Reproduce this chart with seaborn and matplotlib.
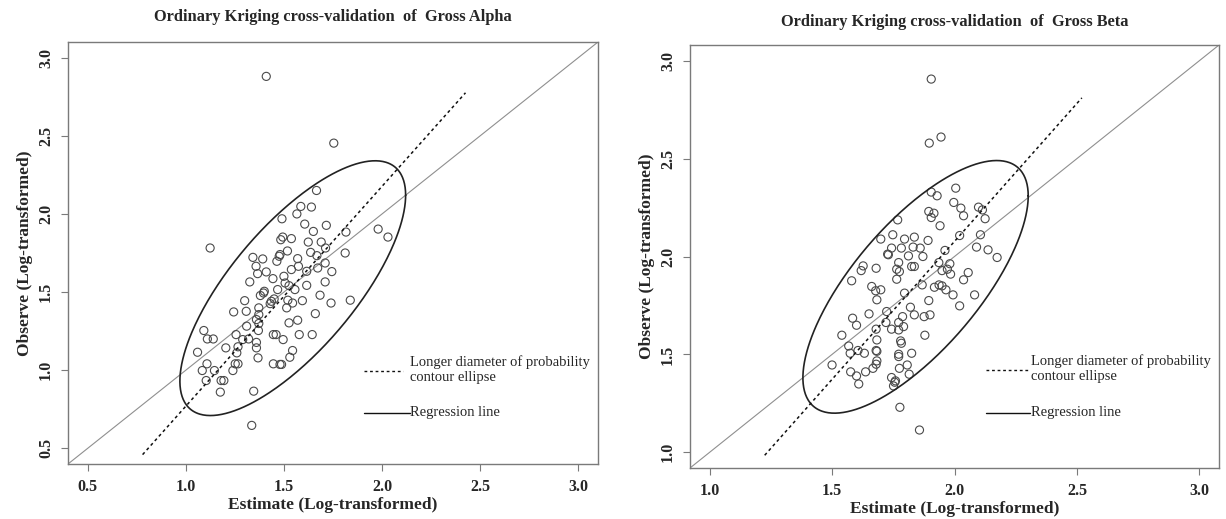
import numpy as np
import matplotlib
matplotlib.use("Agg")
import matplotlib.pyplot as plt
import seaborn as sns
import pandas as pd

# ---------------- data ----------------
alpha_est = [1.41, 1.754, 1.124, 1.98, 2.03, 1.838, 1.336, 1.346, 1.666, 1.586,
             1.64, 1.566, 1.49, 1.606, 1.716, 1.65, 1.816, 1.494, 1.484, 1.538,
             1.518, 1.624, 1.69, 1.712, 1.48, 1.476, 1.636, 1.668, 1.812, 1.342,
             1.392, 1.57, 1.464, 1.71, 1.358, 1.41, 1.366, 1.538, 1.574, 1.616,
             1.672, 1.744, 1.5, 1.444, 1.326, 1.506, 1.526, 1.71, 1.616, 1.468,
             1.40, 1.396, 1.556, 1.38, 1.684, 1.45, 1.30, 1.52, 1.594, 1.74,
             1.544, 1.43, 1.436, 1.372, 1.514, 1.244, 1.308, 1.66, 1.372, 1.36,
             1.57, 1.372, 1.526, 1.092, 1.31, 1.37, 1.256, 1.446, 1.46, 1.644,
             1.578, 1.11, 1.14, 1.29, 1.32, 1.496, 1.36, 1.266, 1.204, 1.36,
             1.544, 1.26, 1.06, 1.368, 1.53, 1.108, 1.252, 1.266, 1.446, 1.48,
             1.488, 1.084, 1.146, 1.24, 1.104, 1.18, 1.194, 1.176]
alpha_obs = [2.88, 2.453, 1.782, 1.903, 1.852, 1.448, 0.647, 0.866, 2.150, 2.048,
             2.044, 2.0, 1.969, 1.935, 1.927, 1.888, 1.884, 1.852, 1.835, 1.842,
             1.763, 1.82, 1.82, 1.782, 1.74, 1.729, 1.754, 1.733, 1.75, 1.722,
             1.712, 1.714, 1.697, 1.686, 1.665, 1.629, 1.618, 1.644, 1.665, 1.633,
             1.654, 1.631, 1.601, 1.586, 1.565, 1.558, 1.541, 1.565, 1.543, 1.516,
             1.505, 1.494, 1.516, 1.478, 1.48, 1.456, 1.445, 1.448, 1.445, 1.43,
             1.43, 1.426, 1.441, 1.399, 1.399, 1.373, 1.377, 1.362, 1.356, 1.324,
             1.32, 1.299, 1.303, 1.254, 1.282, 1.254, 1.228, 1.228, 1.228, 1.228,
             1.228, 1.2, 1.2, 1.196, 1.2, 1.196, 1.178, 1.15, 1.143, 1.143,
             1.126, 1.111, 1.115, 1.079, 1.083, 1.041, 1.041, 1.041, 1.041, 1.037,
             1.037, 0.998, 0.998, 0.998, 0.934, 0.934, 0.934, 0.86]

beta_est = [1.905, 1.897, 1.945, 2.005, 1.905, 1.929, 1.997, 2.026, 2.098, 2.114,
            1.895, 1.916, 2.037, 1.905, 2.125, 1.768, 1.941, 2.021, 2.106, 1.699,
            1.748, 1.796, 1.836, 1.892, 1.743, 1.783, 1.831, 1.86, 1.961, 2.09,
            2.137, 1.727, 1.730, 1.871, 1.812, 2.174, 1.772, 1.936, 1.981, 1.825,
            1.836, 1.627, 1.619, 1.68, 1.764, 1.775, 1.971, 1.949, 1.984, 2.056,
            1.58, 1.764, 1.868, 1.937, 1.949, 2.037, 1.662, 1.678, 1.699, 1.918,
            1.965, 1.796, 1.994, 2.082, 1.683, 1.895, 1.82, 2.021, 1.723, 1.651,
            1.836, 1.9, 1.788, 1.584, 1.876, 1.72, 1.772, 1.6, 1.792, 1.68,
            1.743, 1.772, 1.54, 1.879, 1.683, 1.78, 1.783, 1.568, 1.68, 1.683,
            1.606, 1.574, 1.632, 1.825, 1.772, 1.772, 1.683, 1.68, 1.5, 1.807,
            1.667, 1.775, 1.576, 1.637, 1.6, 1.815, 1.743, 1.759, 1.756, 1.751,
            1.609, 1.777, 1.857]
beta_obs = [2.906, 2.579, 2.61, 2.349, 2.329, 2.31, 2.276, 2.247, 2.252, 2.238,
            2.23, 2.221, 2.208, 2.199, 2.193, 2.187, 2.157, 2.107, 2.111, 2.089,
            2.111, 2.089, 2.099, 2.082, 2.043, 2.043, 2.048, 2.043, 2.031, 2.048,
            2.034, 2.012, 2.009, 2.0, 2.003, 1.995, 1.969, 1.969, 1.963, 1.949,
            1.949, 1.952, 1.928, 1.94, 1.935, 1.923, 1.935, 1.928, 1.91, 1.918,
            1.876, 1.884, 1.855, 1.855, 1.85, 1.881, 1.847, 1.825, 1.83, 1.843,
            1.83, 1.813, 1.804, 1.804, 1.779, 1.775, 1.741, 1.748, 1.719, 1.707,
            1.702, 1.702, 1.693, 1.685, 1.693, 1.663, 1.663, 1.649, 1.642, 1.629,
            1.629, 1.625, 1.598, 1.598, 1.574, 1.569, 1.557, 1.543, 1.52, 1.516,
            1.52, 1.506, 1.506, 1.506, 1.501, 1.489, 1.467, 1.45, 1.446, 1.446,
            1.429, 1.429, 1.411, 1.411, 1.39, 1.399, 1.382, 1.365, 1.358, 1.339,
            1.349, 1.23, 1.114]

# ellipse: centre, half-extent in x, half-extent in y, correlation
alpha_ellipse = dict(cx=1.545, cy=1.525, sx=0.575, sy=0.815, r=0.73)
beta_ellipse = dict(cx=1.841, cy=1.845, sx=0.46, sy=0.645, r=0.72)
# longer diameter (dashed) end points
alpha_axis_x = [0.78, 2.425]
alpha_axis_y = [0.46, 2.775]
beta_axis_x = [1.225, 2.52]
beta_axis_y = [0.985, 2.81]

alpha_ticks = [0.5, 1.0, 1.5, 2.0, 2.5, 3.0]
beta_ticks = [1.0, 1.5, 2.0, 2.5, 3.0]
alpha_lim = (0.4, 3.1)
beta_lim = (0.92, 3.08)

titles = ["Ordinary Kriging cross-validation  of  Gross Alpha",
          "Ordinary Kriging cross-validation  of  Gross Beta"]
xlabel = "Estimate (Log-transformed)"
ylabel = "Observe (Log-transformed)"
legend_dash = "Longer diameter of probability\ncontour ellipse"
legend_solid = "Regression line"

# ---------------- style ----------------
sns.set_theme(style="ticks")
plt.rcParams["font.family"] = ["Liberation Serif", "DejaVu Serif"]

FRAME = "#7a7a7a"
PT = "#4a4a4a"

fig = plt.figure(figsize=(12.26, 5.19), dpi=100)
ax1 = fig.add_axes([68 / 1226, 1 - 464 / 519, 530 / 1226, 422 / 519])
ax2 = fig.add_axes([690 / 1226, 1 - 468 / 519, 529 / 1226, 423 / 519])


def panel(ax, est, obs, ell, axx, axy, ticks, lim, title, leg):
    df = pd.DataFrame({"est": est, "obs": obs})
    sns.scatterplot(data=df, x="est", y="obs", ax=ax, marker="o", s=34,
                    facecolors="none", edgecolor=PT, linewidth=0.8, zorder=3)
    ax.collections[-1].set_facecolor("none")
    # 1:1 line
    ax.axline((lim[0], lim[0]), (lim[1], lim[1]), color="#8f8f8f", lw=0.8, zorder=2)
    # ellipse
    t = np.linspace(0, 2 * np.pi, 400)
    ex = ell["cx"] + ell["sx"] * np.cos(t)
    ey = ell["cy"] + ell["sy"] * (ell["r"] * np.cos(t) + np.sqrt(1 - ell["r"] ** 2) * np.sin(t))
    ax.plot(ex, ey, color="#222222", lw=1.2, zorder=4)
    # longer diameter
    ax.plot(axx, axy, color="#111111", lw=1.1, ls=(0, (2, 2)), zorder=4)

    ax.set_xlim(lim)
    ax.set_ylim(lim)
    ax.set_xticks(ticks)
    ax.set_yticks(ticks)
    ax.set_xticklabels([f"{v:.1f}" for v in ticks], fontweight="bold", fontsize=11.5)
    ax.set_yticklabels([f"{v:.1f}" for v in ticks], fontweight="bold", fontsize=11.5,
                       rotation=90, va="center")
    ax.tick_params(direction="out", length=5, width=0.8, color=FRAME, pad=5)
    ax.tick_params(axis="x", pad=6)
    for s in ax.spines.values():
        s.set_color(FRAME)
        s.set_linewidth(1.0)
    ax.set_xlabel(xlabel, fontweight="bold", fontsize=12.5, labelpad=1)
    ax.set_ylabel(ylabel, fontweight="bold", fontsize=12.5, labelpad=4)
    ax.set_title(title, fontweight="bold", fontsize=11.75, pad=leg["tpad"])

    # legend drawn in axes fraction
    tr = ax.transAxes
    ax.plot([leg["x0"], leg["x1"]], [leg["yd"], leg["yd"]], transform=tr,
            color="#111111", lw=1.0, ls=(0, (2, 2)))
    ax.text(leg["xt"], leg["ydt"], legend_dash, transform=tr, fontsize=10.5,
            va="center", ha="left", linespacing=1.2)
    ax.plot([leg["x0"], leg["xs1"]], [leg["ys"], leg["ys"]], transform=tr,
            color="#111111", lw=1.0)
    ax.text(leg["xt"], leg["ys"], legend_solid, transform=tr, fontsize=10.5,
            va="center", ha="left")


panel(ax1, alpha_est, alpha_obs, alpha_ellipse, alpha_axis_x, alpha_axis_y,
      alpha_ticks, alpha_lim, titles[0],
      dict(x0=0.558, x1=0.632, xs1=0.645, xt=0.646, yd=0.220, ydt=0.224, ys=0.121, tpad=15))
panel(ax2, beta_est, beta_obs, beta_ellipse, beta_axis_x, beta_axis_y,
      beta_ticks, beta_lim, titles[1],
      dict(x0=0.5595, x1=0.639, xs1=0.6427, xt=0.6446, yd=0.232, ydt=0.235, ys=0.131, tpad=14))

fig.savefig("out.png", dpi=100)
